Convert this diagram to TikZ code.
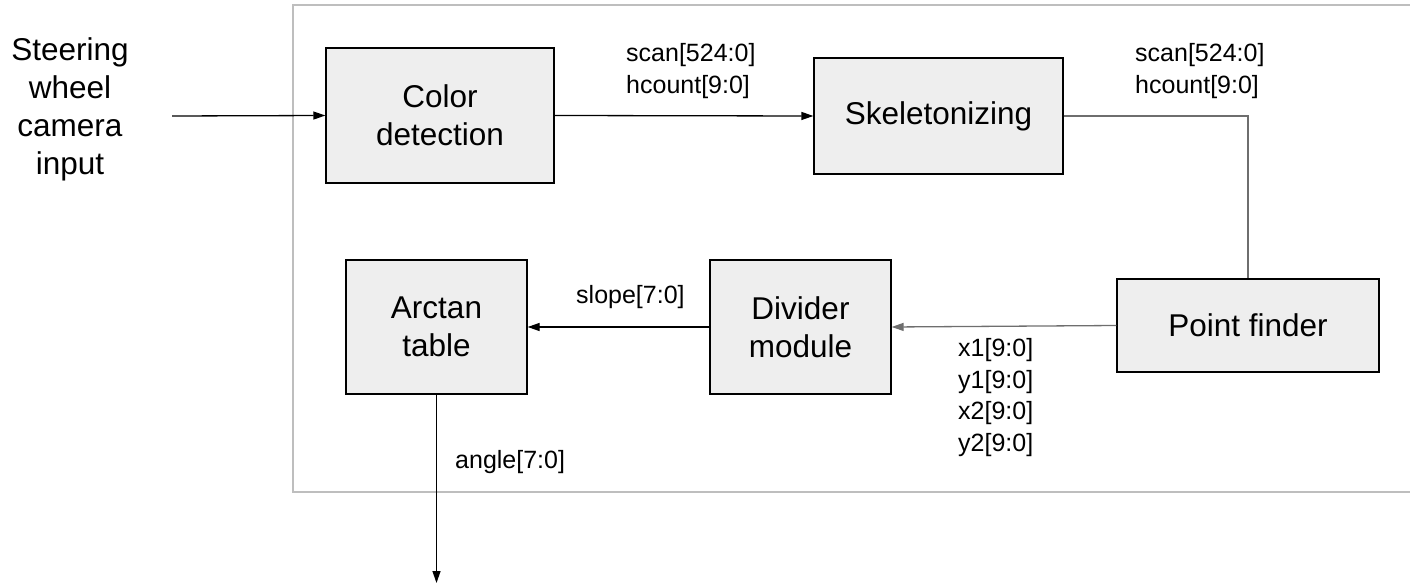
\documentclass[tikz,border=0pt]{standalone}
\usepackage{fontspec}
\setmainfont{Liberation Sans}
\usetikzlibrary{arrows.meta}
\definecolor{boxfill}{RGB}{238,238,238}
\definecolor{framegray}{RGB}{190,190,190}
\definecolor{wiregray}{RGB}{110,110,110}
\begin{document}
\begin{tikzpicture}[x=1pt,y=-1pt,
  blk/.style={draw=black,fill=boxfill,line width=1.3pt,align=center,inner sep=0pt,
    font=\fontsize{31.5}{38}\selectfont},
  lbl/.style={anchor=west,align=left,inner sep=0pt,font=\fontsize{25}{31.5}\selectfont},
  wire/.style={line width=1.3pt,black,-{Triangle[length=12pt,width=8pt]}},
  gwire/.style={line width=1.3pt,wiregray,-{Triangle[length=12pt,width=8pt]}},
  gline/.style={line width=1.3pt,wiregray}]
\useasboundingbox (0,0) rectangle (1410,585);
\draw[framegray,line width=1.6pt] (1420,5) -- (293,5) -- (293,492) -- (1420,492);

\node[align=center,inner sep=0pt,font=\fontsize{31.5}{38}\selectfont] (in) at (70,109) {Steering\\wheel\\camera\\input};
\coordinate (inpt) at (172,116);

\node[blk,minimum width=228pt,minimum height=135pt] (color) at (440,115.5) {Color\\detection};
\node[blk,minimum width=249pt,minimum height=116pt] (skel) at (938.5,116) {Skeletonizing};
\node[blk,minimum width=262pt,minimum height=93pt] (point) at (1248,325.5) {Point finder};
\node[blk,minimum width=181pt,minimum height=134pt] (div) at (800.5,327) {Divider\\module};
\node[blk,minimum width=181pt,minimum height=134pt] (arc) at (436.5,327) {Arctan\\table};
\coordinate (outpt) at (436.5,583);

\draw[wire] (inpt) -- (color.west);
\draw[wire] (color.east) -- (skel.west);
\draw[gline] (skel.east) -| (point.north);
\draw[gwire] (point.west) -- (div.east);
\draw[wire] (div.west) -- (arc.east);
\draw[wire] (arc.south) -- (outpt);

\node[lbl] (l1) at (626,71) {scan[524:0]\\hcount[9:0]};
\node[lbl] (l2) at (1135,71) {scan[524:0]\\hcount[9:0]};
\node[lbl] (l3) at (576,297) {slope[7:0]};
\node[lbl] (l4) at (958,397.5) {x1[9:0]\\y1[9:0]\\x2[9:0]\\y2[9:0]};
\node[lbl] (l5) at (455,462) {angle[7:0]};
\end{tikzpicture}
\end{document}
